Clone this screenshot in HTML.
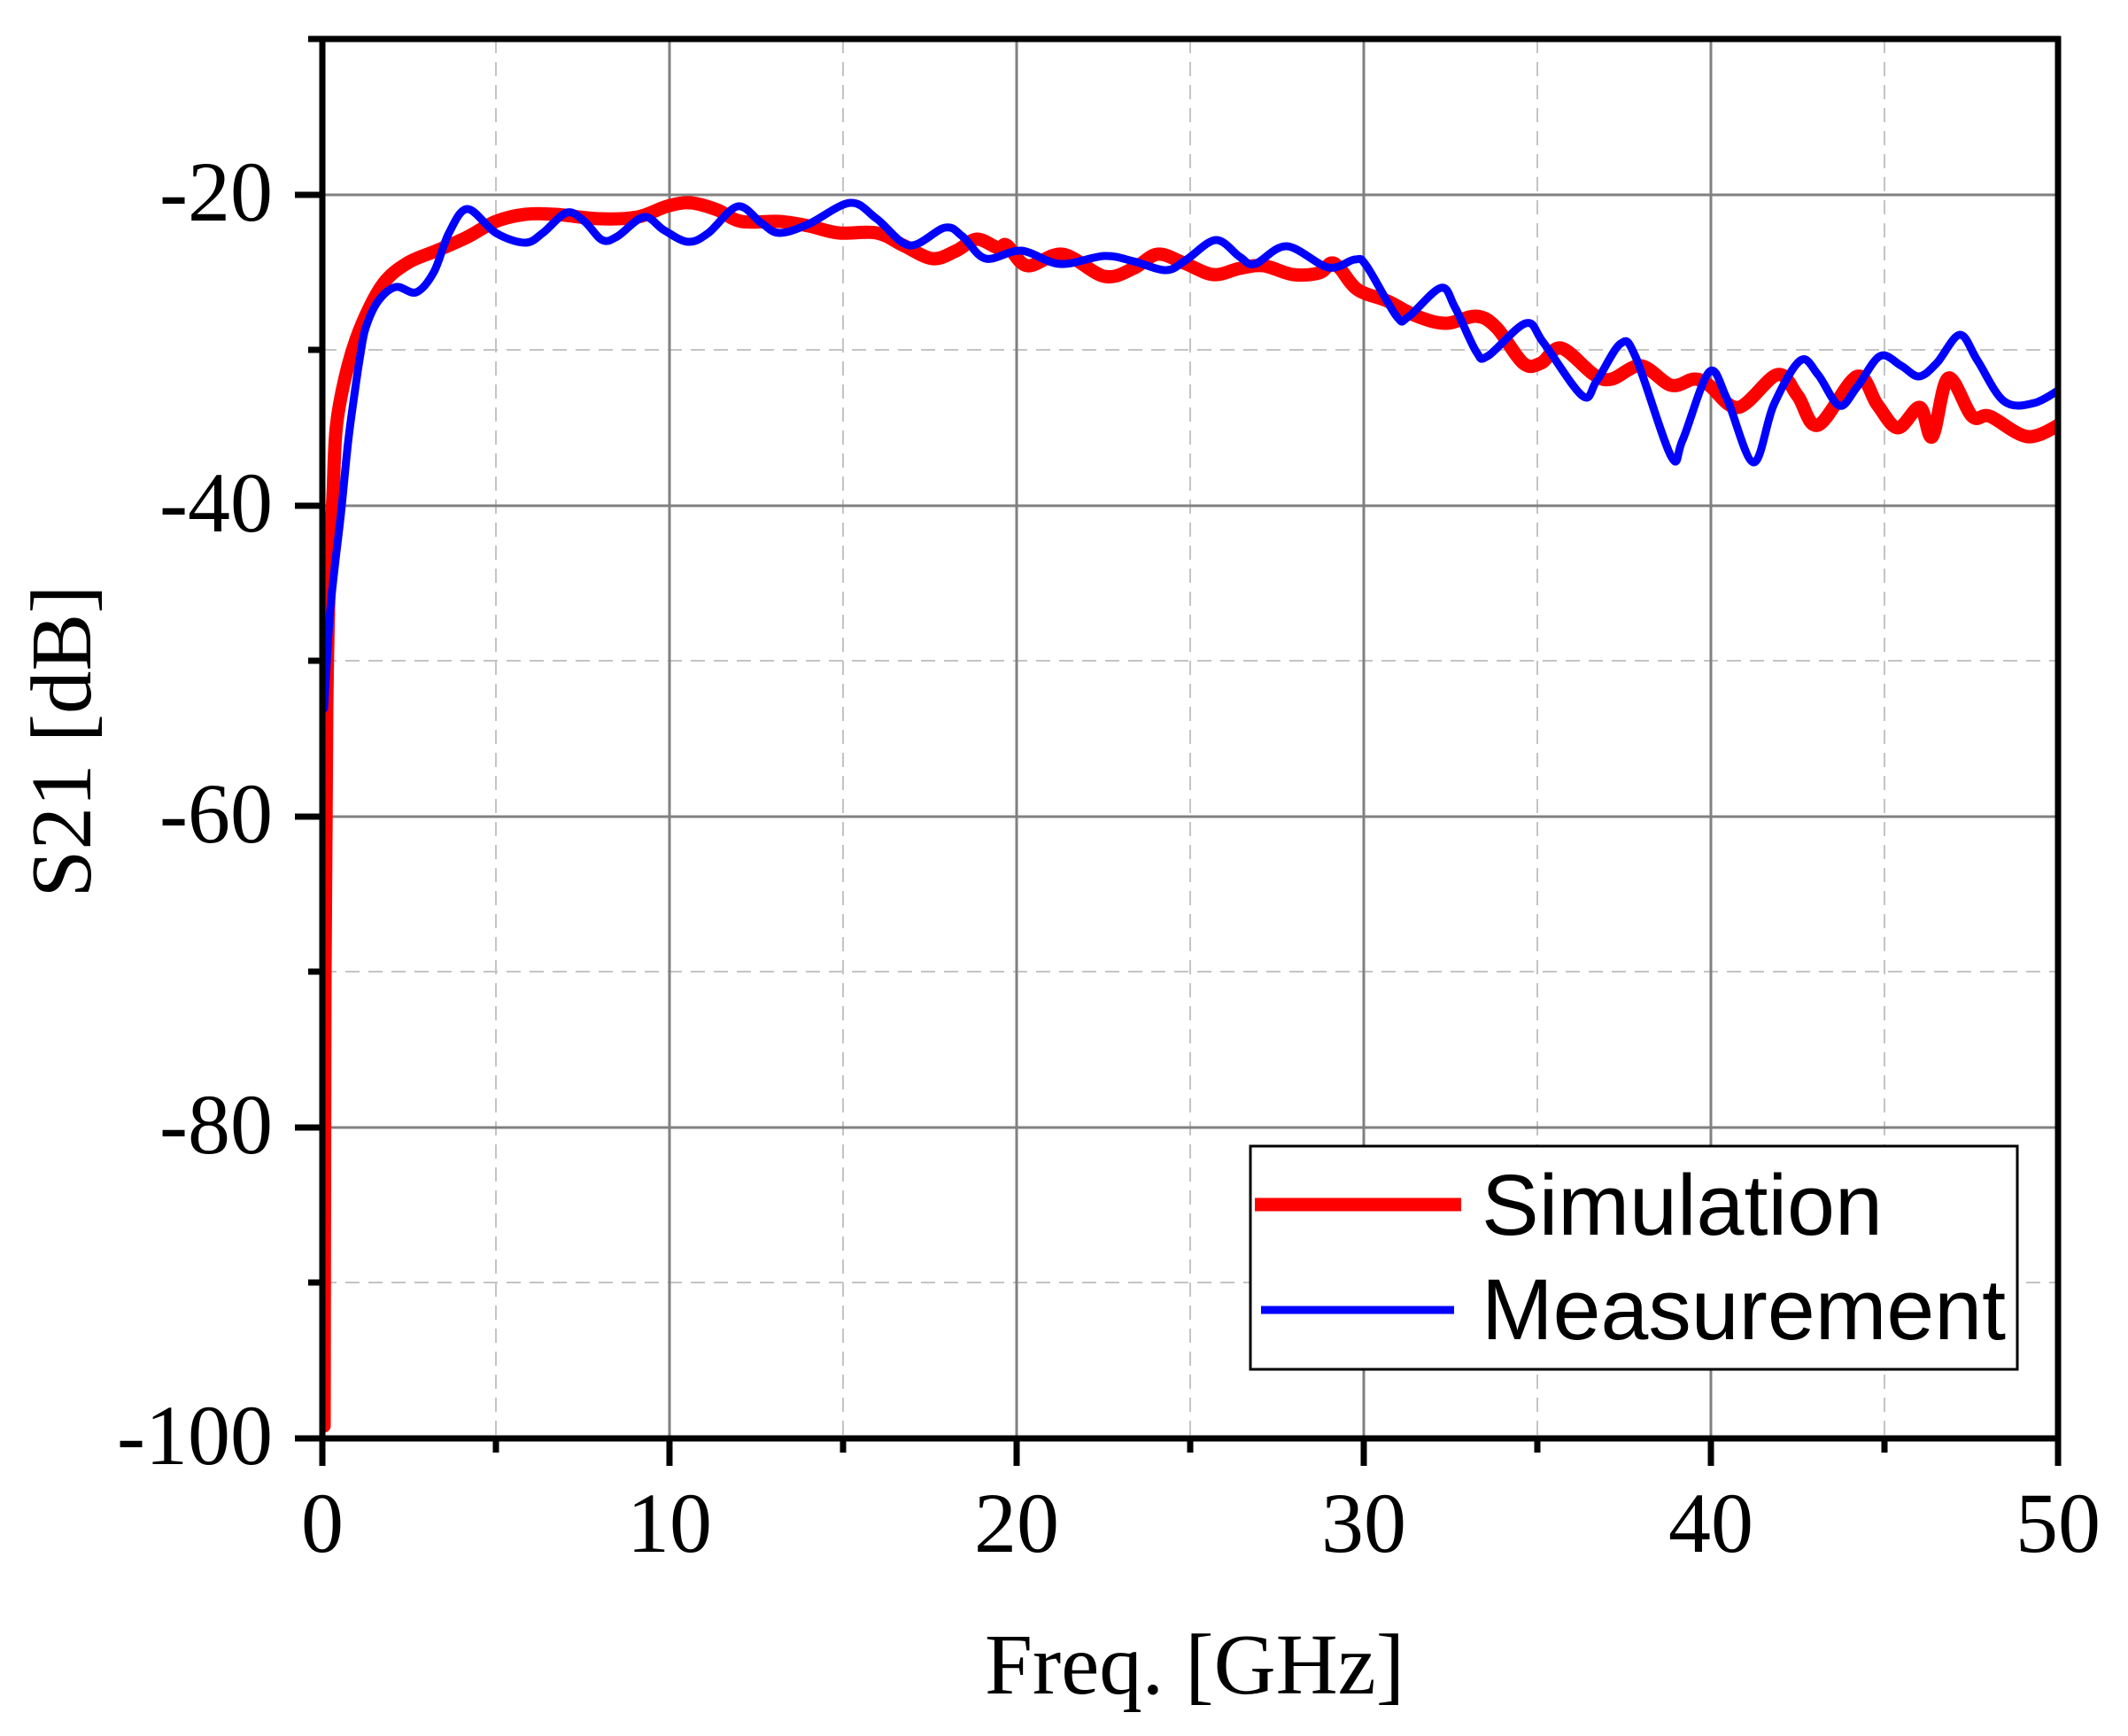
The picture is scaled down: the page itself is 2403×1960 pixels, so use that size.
<!DOCTYPE html>
<html><head><meta charset="utf-8"><style>html,body{margin:0;padding:0;background:#fff}svg{display:block}</style></head>
<body>
<svg id="s" width="2403" height="1960" viewBox="0 0 2403 1960" xmlns="http://www.w3.org/2000/svg">
<defs><clipPath id="c"><rect x="364" y="44" width="1960" height="1580"/></clipPath></defs>
<g stroke="#c4c4c4" stroke-width="2" stroke-dasharray="16,10">
<line x1="560" y1="44" x2="560" y2="1624"/><line x1="952" y1="44" x2="952" y2="1624"/><line x1="1344" y1="44" x2="1344" y2="1624"/><line x1="1736" y1="44" x2="1736" y2="1624"/><line x1="2128" y1="44" x2="2128" y2="1624"/>
<line x1="364" y1="395" x2="2324" y2="395"/><line x1="364" y1="746" x2="2324" y2="746"/><line x1="364" y1="1097" x2="2324" y2="1097"/><line x1="364" y1="1448" x2="2324" y2="1448"/>
</g>
<g stroke="#808080" stroke-width="3">
<line x1="756" y1="44" x2="756" y2="1624"/><line x1="1148" y1="44" x2="1148" y2="1624"/><line x1="1540" y1="44" x2="1540" y2="1624"/><line x1="1932" y1="44" x2="1932" y2="1624"/>
<line x1="364" y1="220" x2="2324" y2="220"/><line x1="364" y1="571" x2="2324" y2="571"/><line x1="364" y1="922" x2="2324" y2="922"/><line x1="364" y1="1273" x2="2324" y2="1273"/>
</g>
<g id="curves" clip-path="url(#c)" fill="none" stroke-linejoin="round" stroke-linecap="round">
<polyline stroke="#ff0000" stroke-width="15" points="366,1610 367,1100 369,800 372,650 376,560 380,480 393,413 410,363 433,320 460,297 493,283 527,268 560,250 593,242 627,242 677,247 720,245 753,233 780,229 810,237 837,250 880,250 913,255 947,263 990,263 1020,277 1053,292 1080,283 1103,270 1127,280 1137,277 1160,300 1200,287 1247,312 1280,303 1307,287 1337,297 1370,310 1400,303 1427,300 1460,310 1490,308 1503,297 1513,303 1533,327 1567,340 1600,357 1633,365 1667,357 1690,370 1720,410 1740,410 1763,393 1800,423 1820,428 1853,413 1887,435 1913,428 1930,435 1963,460 2007,423 2030,447 2053,480 2097,425 2120,457 2143,483 2168,460 2182,493 2200,427 2227,470 2247,470 2290,493 2330,477"/>
<polyline stroke="#0000ff" stroke-width="9" points="366,800 372,700 378,640 385,580 393,500 400,447 407,400 413,370 427,340 447,324 470,330 490,307 507,263 528,236 560,263 593,274 613,263 640,240 660,250 680,271 697,267 727,245 750,260 777,273 800,263 833,233 860,252 880,263 913,253 960,229 990,247 1027,277 1067,257 1087,267 1113,292 1153,283 1197,298 1247,289 1280,295 1317,305 1340,293 1373,271 1400,290 1417,298 1453,278 1500,302 1530,293 1543,300 1577,357 1590,358 1627,325 1643,347 1667,397 1680,402 1723,365 1743,387 1787,447 1803,430 1830,388 1847,403 1887,515 1900,497 1930,420 1950,450 1980,522 2003,457 2033,407 2053,423 2077,458 2097,437 2123,402 2147,413 2167,425 2187,410 2213,378 2233,407 2263,453 2297,455 2330,437"/>
</g>
<g stroke="#000" stroke-width="7">
<line x1="349" y1="44" x2="2327" y2="44"/><line x1="2324" y1="41" x2="2324" y2="1627"/>
<line x1="364" y1="44" x2="364" y2="1655"/><line x1="333" y1="1624" x2="2327" y2="1624"/>
<line x1="756" y1="1624" x2="756" y2="1655"/><line x1="1148" y1="1624" x2="1148" y2="1655"/><line x1="1540" y1="1624" x2="1540" y2="1655"/><line x1="1932" y1="1624" x2="1932" y2="1655"/><line x1="2324" y1="1624" x2="2324" y2="1655"/>
<line x1="560" y1="1624" x2="560" y2="1640"/><line x1="952" y1="1624" x2="952" y2="1640"/><line x1="1344" y1="1624" x2="1344" y2="1640"/><line x1="1736" y1="1624" x2="1736" y2="1640"/><line x1="2128" y1="1624" x2="2128" y2="1640"/>
<line x1="333" y1="220" x2="364" y2="220"/><line x1="333" y1="571" x2="364" y2="571"/><line x1="333" y1="922" x2="364" y2="922"/><line x1="333" y1="1273" x2="364" y2="1273"/>
<line x1="348" y1="44" x2="364" y2="44"/><line x1="348" y1="395" x2="364" y2="395"/><line x1="348" y1="746" x2="364" y2="746"/><line x1="348" y1="1097" x2="364" y2="1097"/><line x1="348" y1="1448" x2="364" y2="1448"/>
</g>
<g font-family="Liberation Serif, serif" font-size="96" fill="#000">
<g text-anchor="end">
<text x="308" y="249">-20</text><text x="308" y="600">-40</text><text x="308" y="951">-60</text><text x="308" y="1302">-80</text><text x="308" y="1653">-100</text>
</g>
<g text-anchor="middle">
<text x="364" y="1752">0</text><text x="756" y="1752">10</text><text x="1148" y="1752">20</text><text x="1540" y="1752">30</text><text x="1932" y="1752">40</text><text x="2324" y="1752">50</text>
<text x="1349" y="1912" font-size="97">Freq. [GHz]</text>
<text transform="translate(102,837) rotate(-90)" font-size="97">S21 [dB]</text>
</g>
</g>
<rect x="1412" y="1294" width="866" height="252" fill="#fff" stroke="#000" stroke-width="3"/>
<line x1="1417" y1="1360" x2="1650" y2="1360" stroke="#ff0000" stroke-width="15"/>
<line x1="1424" y1="1479" x2="1642" y2="1479" stroke="#0000ff" stroke-width="9"/>
<g font-family="Liberation Sans, sans-serif" font-size="97" fill="#000">
<text x="1673" y="1394">Simulation</text>
<text x="1673" y="1512" textLength="592" lengthAdjust="spacingAndGlyphs">Measurement</text>
</g>
</svg>
<script>
(function(){
var NS="http://www.w3.org/2000/svg";
var pls=document.querySelectorAll("#curves polyline");
for(var k=0;k<pls.length;k++){
var pl=pls[k];
var a=pl.getAttribute("points").trim().split(/\s+/).map(function(s){var q=s.split(",");return [+q[0],+q[1]];});
var d="M"+a[0][0]+","+a[0][1];
for(var i=0;i<a.length-1;i++){
var p0=a[i>0?i-1:i],p1=a[i],p2=a[i+1],p3=a[i+2<a.length?i+2:i+1];
var c1x=p1[0]+(p2[0]-p0[0])/6,c1y=p1[1]+(p2[1]-p0[1])/6;
var c2x=p2[0]-(p3[0]-p1[0])/6,c2y=p2[1]-(p3[1]-p1[1])/6;
d+=" C"+c1x.toFixed(1)+","+c1y.toFixed(1)+" "+c2x.toFixed(1)+","+c2y.toFixed(1)+" "+p2[0]+","+p2[1];
}
var p=document.createElementNS(NS,"path");
p.setAttribute("d",d);
p.setAttribute("stroke",pl.getAttribute("stroke"));
p.setAttribute("stroke-width",pl.getAttribute("stroke-width"));
pl.parentNode.replaceChild(p,pl);
}
})();
</script>
</body></html>
